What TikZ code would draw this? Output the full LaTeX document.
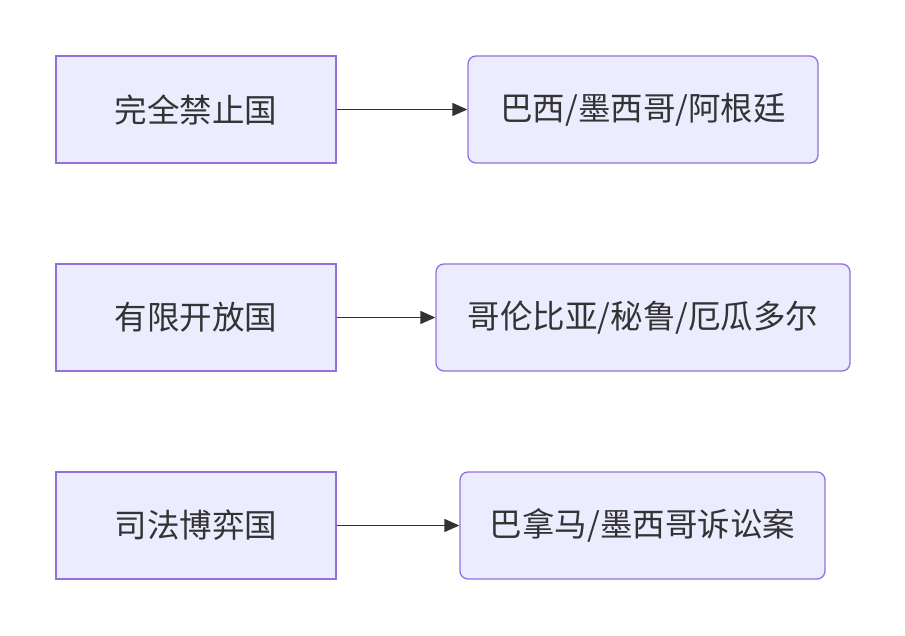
\documentclass[tikz,border=0pt]{standalone}
\usepackage{fontspec}
\setmainfont{Noto Sans CJK SC}
\usetikzlibrary{arrows.meta}
\definecolor{boxfill}{HTML}{ECECFF}
\definecolor{boxline}{HTML}{9370DB}
\definecolor{ink}{HTML}{333333}
\tikzset{
  leftbox/.style={draw=boxline, fill=boxfill, line width=1.3pt, minimum width=280pt, minimum height=107pt, inner sep=0pt, text=ink, font=\fontsize{32.5}{37}\selectfont},
  rightbox/.style={leftbox, rounded corners=8pt},
  link/.style={draw=ink, line width=1.6pt, -{Triangle[length=15pt,width=13pt]}}
}
\begin{document}
\begin{tikzpicture}[x=1pt,y=-1pt]
\useasboundingbox (0,0) rectangle (905,636);
\node[leftbox] (a1) at (196,109.5) {完全禁止国};
\node[leftbox] (a2) at (196,317.5) {有限开放国};
\node[leftbox] (a3) at (196,525.5) {司法博弈国};
\node[rightbox, minimum width=350pt] (b1) at (643,109.5) {巴西/墨西哥/阿根廷};
\node[rightbox, minimum width=414pt] (b2) at (643,317.5) {哥伦比亚/秘鲁/厄瓜多尔};
\node[rightbox, minimum width=365pt] (b3) at (642.5,525.5) {巴拿马/墨西哥诉讼案};
\draw[link] (a1) -- (b1);
\draw[link] (a2) -- (b2);
\draw[link] (a3) -- (b3);
\end{tikzpicture}
\end{document}
